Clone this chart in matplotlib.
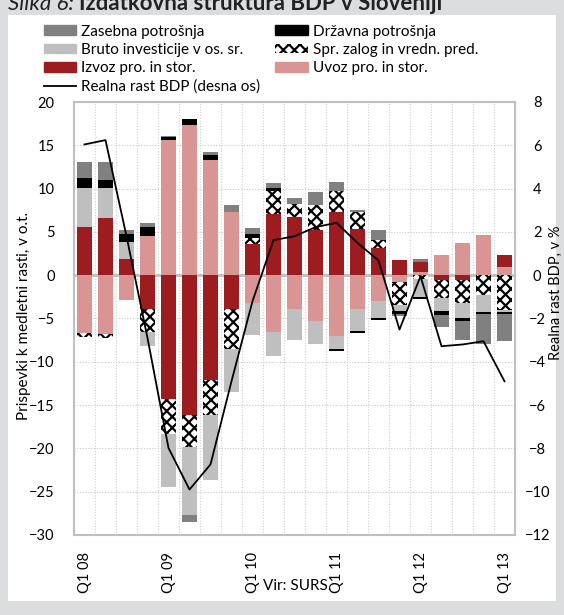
import matplotlib.pyplot as plt
import numpy as np
from matplotlib.patches import Patch, Rectangle
from matplotlib.lines import Line2D

plt.rcParams['font.family'] = ['Lato', 'DejaVu Sans']
plt.rcParams['hatch.linewidth'] = 1.6
plt.rcParams['hatch.color'] = 'black'

# Data (contributions to y-o-y growth, p.p.; GDP growth in %)
quarters = ['Q1 08', 'Q2 08', 'Q3 08', 'Q4 08', 'Q1 09', 'Q2 09', 'Q3 09',
            'Q4 09', 'Q1 10', 'Q2 10', 'Q3 10', 'Q4 10', 'Q1 11', 'Q2 11',
            'Q3 11', 'Q4 11', 'Q1 12', 'Q2 12', 'Q3 12', 'Q4 12', 'Q1 13']
uvoz = [-6.66, -6.78, -2.81, 4.5, 15.59, 17.4, 13.28, 7.27, -3.2, -6.54,
        -3.85, -5.31, -7.04, -3.85, -3.0, -0.8, 0.35, 2.31, 3.75, 4.62, 0.92]
izvoz = [5.54, 6.62, 1.88, -3.85, -14.35, -16.2, -12.05, -3.85, 3.61, 7.08,
         6.73, 5.27, 7.31, 5.39, 3.15, 1.8, 1.19, -0.5, -0.55, 0.0, 1.47]
zaloge = [-0.5, -0.42, 0.0, -2.7, -3.93, -3.66, -4.12, -4.66, 0.66, 2.7,
          1.5, 2.89, 2.39, 1.92, 0.97, -2.6, -0.45, -2.19, -2.62, -2.23, -3.97]
investicije = [4.54, 3.46, 1.93, -1.57, -6.2, -7.85, -7.5, -5.0, -3.65, -2.81,
               -3.65, -2.62, -1.47, -2.54, -1.93, -0.69, -2.1, -1.47, -1.73,
               -2.04, -0.3]
drzavna = [1.09, 0.97, 0.96, 1.08, 0.34, 0.58, 0.58, 0.0, 0.5, 0.3,
           0.0, 0.0, -0.27, -0.27, -0.19, -0.39, -0.15, -0.38, -0.38, -0.23,
           -0.23]
zasebna = [1.91, 2.03, 0.5, 0.46, 0.2, -0.77, 0.38, 0.81, 0.69, 0.51,
           0.7, 1.42, 1.08, 0.27, 1.15, -0.26, 0.38, -1.4, -2.19, -3.5, -3.1]
bdp = [6.04, 6.24, 1.8, -2.9, -7.98, -9.9, -8.74, -4.9, -1.2, 1.62, 1.8,
       2.22, 2.42, 1.49, 0.68, -2.51, -0.05, -3.28, -3.2, -3.05, -4.9]

fig = plt.figure(figsize=(5.64, 6.15), dpi=100, facecolor='#dcdddf')
fig.patches.append(Rectangle((8 / 564, 1 - 601 / 615), 548 / 564, 586 / 615,
                             transform=fig.transFigure, facecolor='white',
                             edgecolor='none', zorder=-5))

ax = fig.add_axes([74 / 564, 1 - 535 / 615, 441 / 564, 433 / 615])
ax.set_facecolor('white')
x = np.arange(len(quarters))
width = 0.76

series = [
    (uvoz, dict(color='#d99594')),
    (izvoz, dict(color='#9c1c20')),
    (zaloge, dict(facecolor='white', hatch='xxx', edgecolor='black', linewidth=0)),
    (investicije, dict(color='#bfbfbf')),
    (drzavna, dict(color='black')),
    (zasebna, dict(color='#808080')),
]
pos = np.zeros(len(x))
neg = np.zeros(len(x))
for vals, style in series:
    vals = np.array(vals)
    bottom = np.where(vals >= 0, pos, neg)
    ax.bar(x, vals, width, bottom=bottom, zorder=2, **style)
    pos = pos + np.clip(vals, 0, None)
    neg = neg + np.clip(vals, None, 0)

ax.set_xlim(-0.5, len(x) - 0.5)
ax.set_ylim(-30, 20)
ax.set_yticks(range(-30, 21, 5))
ax.set_xticks(range(0, len(x), 4))
ax.set_xticklabels(quarters[::4], rotation=90)
ax.tick_params(axis='x', length=0, labelsize=10.5, pad=12)
ax.tick_params(axis='y', length=0, labelsize=10.5, pad=14)
ax.axhline(0, color='#bfbfbf', lw=2, zorder=1.5)
for yv in range(-25, 20, 5):
    ax.axhline(yv, color='#c8c8c8', lw=0.8, ls=(0, (1, 1.5)), zorder=1)
for xv in np.arange(0.5, len(x) - 1, 1):
    ax.axvline(xv, color='#d0d0d0', lw=0.8, ls=(0, (1, 1.5)), zorder=1)
for s in ax.spines.values():
    s.set_color('#bfbfbf')
    s.set_linewidth(1.5)
ax.set_ylabel('Prispevki k medletni rasti, v o.t.', fontsize=11)
ax.yaxis.set_label_coords(-0.097, 0.505)

ax2 = ax.twinx()
ax2.plot(x, bdp, color='black', lw=1.3, zorder=3)
ax2.set_ylim(-12, 8)
ax2.set_yticks(range(-12, 9, 2))
ax2.tick_params(length=0, labelsize=10.5, pad=16)
for lab in ax2.get_yticklabels():
    lab.set_horizontalalignment('center')
for s in ax2.spines.values():
    s.set_visible(False)
ax2.set_ylabel('Realna rast BDP, v %', fontsize=10.5)
ax2.yaxis.set_label_coords(1.076, 0.56)

handles = [
    Patch(color='#808080', label='Zasebna potrošnja'),
    Patch(color='#bfbfbf', label='Bruto investicije v os. sr.'),
    Patch(color='#9c1c20', label='Izvoz pro. in stor.'),
    Line2D([], [], color='black', lw=1.3, label='Realna rast BDP (desna os)'),
    Patch(color='black', label='Državna potrošnja'),
    Patch(facecolor='white', hatch='xxx', edgecolor='black', linewidth=0,
          label='Spr. zalog in vredn. pred.'),
    Patch(color='#d99594', label='Uvoz pro. in stor.'),
]
fig.legend(handles=handles, ncol=2, loc='upper left',
           bbox_to_anchor=(36 / 564, 1 - 17 / 615), frameon=False,
           fontsize=11, handlelength=2.1, handleheight=0.6, handletextpad=0.35,
           labelspacing=0.28, columnspacing=1.0, borderpad=0)

t1 = fig.text(8 / 564, 1 - 10 / 615, 'Slika 6:', fontsize=16, style='italic',
              color='#222222', va='baseline')
fig.canvas.draw()
bb = t1.get_window_extent()
fig.text((bb.x1 + 5) / 564, 1 - 10 / 615, 'Izdatkovna struktura BDP v Sloveniji',
         fontsize=16, fontweight='bold', color='#222222', va='baseline')
fig.text(263 / 564, 1 - 590 / 615, 'Vir: SURS.', fontsize=11, va='baseline')

fig.savefig('out.png', dpi=100, facecolor=fig.get_facecolor())
